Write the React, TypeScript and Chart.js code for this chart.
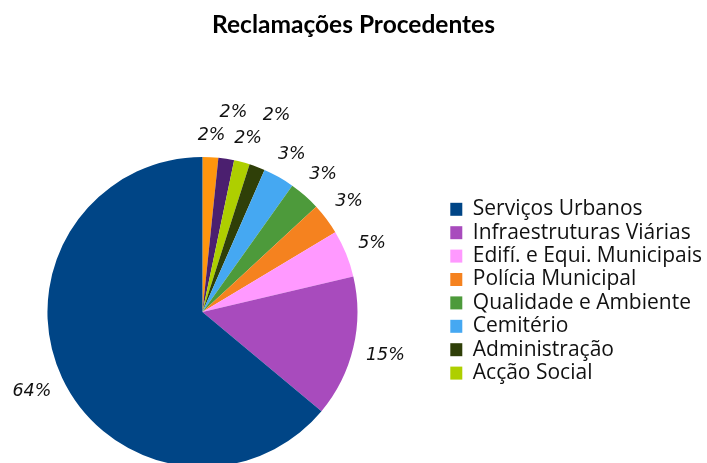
import React, { useEffect, useRef } from 'react';
import { Chart, registerables } from 'chart.js';

Chart.register(...registerables);

const titleText = 'Reclamações Procedentes';
// legend order (Serviços Urbanos first); the last two slices have no legend entry
const categories = [
  'Serviços Urbanos',
  'Infraestruturas Viárias',
  'Edifí. e Equi. Municipais',
  'Polícia Municipal',
  'Qualidade e Ambiente',
  'Cemitério',
  'Administração',
  'Acção Social',
  '',
  '',
];
const counts = [39, 9, 3, 2, 2, 2, 1, 1, 1, 1];
const colors = [
  '#004586',
  '#a84bbd',
  '#ff99ff',
  '#f5821f',
  '#4d9a3b',
  '#45a8f2',
  '#2f3f08',
  '#aecf00',
  '#4b1f6f',
  '#ff950e',
];

const PAGE_W = 707;
const PAGE_H = 463;
const SHIFT_X = 43; // canvas starts left of the page so the pie sits where the reference has it
const CANVAS_W = 755;
const CANVAS_H = 467;
const LABEL_FONT = 17.5;

const pctLabels = {
  id: 'pctLabels',
  afterDatasetsDraw(chart: any) {
    const meta = chart.getDatasetMeta(0);
    const data = chart.data.datasets[0].data as number[];
    const total = data.reduce((a, b) => a + b, 0);
    const ctx = chart.ctx as CanvasRenderingContext2D;
    ctx.save();
    ctx.font = `oblique ${LABEL_FONT}px 'DejaVu Sans', sans-serif`;
    ctx.fillStyle = '#111';
    ctx.textAlign = 'center';
    ctx.textBaseline = 'middle';
    const placed: { l: number; r: number; t: number; b: number }[] = [];
    meta.data.forEach((arc: any, i: number) => {
      const { x, y, startAngle, endAngle, outerRadius } = arc.getProps(
        ['x', 'y', 'startAngle', 'endAngle', 'outerRadius'],
        true
      );
      const mid = (startAngle + endAngle) / 2;
      const txt = Math.round((data[i] / total) * 100) + '%';
      const w = ctx.measureText(txt).width;
      const h = LABEL_FONT * 1.3;
      const c = Math.cos(mid);
      const s = Math.sin(mid);
      let d = outerRadius + 12 + (w / 2) * Math.abs(c) + LABEL_FONT * 0.5 * Math.abs(s);
      let px = x + d * c;
      let py = y + d * s;
      for (let k = 0; k < 200; k++) {
        px = x + d * c;
        py = y + d * s;
        const box = { l: px - w / 2 - 1, r: px + w / 2 + 1, t: py - h / 2, b: py + h / 2 };
        const hit = placed.some((p) => box.l < p.r && box.r > p.l && box.t < p.b && box.b > p.t);
        if (!hit) {
          placed.push(box);
          break;
        }
        d += 1;
      }
      ctx.fillText(txt, px, py);
    });
    ctx.restore();
  },
};

const centerTitle = {
  id: 'centerTitle',
  afterLayout(chart: any) {
    const t = chart.titleBlock;
    if (t) {
      t.left = SHIFT_X;
      t.right = SHIFT_X + PAGE_W;
      t.width = PAGE_W;
    }
  },
};

export default function App() {
  const ref = useRef<HTMLCanvasElement | null>(null);

  useEffect(() => {
    if (!ref.current) return;
    // pie runs counter-clockwise from 12 o'clock in the reference; Chart.js draws clockwise
    const labels = [...categories].reverse();
    const values = [...counts].reverse();
    const bg = [...colors].reverse();
    const baseGen = (Chart as any).overrides.doughnut.plugins.legend.labels.generateLabels;

    const chart = new Chart(ref.current, {
      type: 'pie',
      data: {
        labels,
        datasets: [
          {
            data: values,
            backgroundColor: bg,
            borderWidth: 0,
          },
        ],
      },
      options: {
        responsive: false,
        animation: false,
        layout: { padding: { left: 0, right: 0, top: 0, bottom: 0 } },
        plugins: {
          title: {
            display: true,
            text: titleText,
            color: '#000',
            font: { family: "Lato, 'Open Sans', sans-serif", size: 24.5, weight: 'bold' },
            padding: { top: 10.5, bottom: 117.1 },
          },
          legend: {
            position: 'right',
            align: 'start',
            title: {
              display: true,
              text: '',
              font: { size: 10 },
              padding: { top: 184.4, bottom: 0 },
            },
            labels: {
              boxWidth: 12,
              boxHeight: 13,
              padding: 2.4,
              color: '#111',
              font: { family: "'Open Sans', sans-serif", size: 21 },
              generateLabels: (c: any) =>
                baseGen(c)
                  .reverse()
                  .filter((it: any) => it.text !== ''),
            },
          },
          tooltip: { enabled: false },
        },
      } as any,
      plugins: [pctLabels, centerTitle],
    });
    return () => chart.destroy();
  }, []);

  return (
    <div
      style={{
        position: 'fixed',
        left: 0,
        top: 0,
        width: PAGE_W,
        height: PAGE_H,
        overflow: 'hidden',
        background: '#fff',
      }}
    >
      <canvas
        ref={ref}
        width={CANVAS_W}
        height={CANVAS_H}
        style={{ display: 'block', position: 'absolute', left: -SHIFT_X, top: 0 }}
      />
    </div>
  );
}
